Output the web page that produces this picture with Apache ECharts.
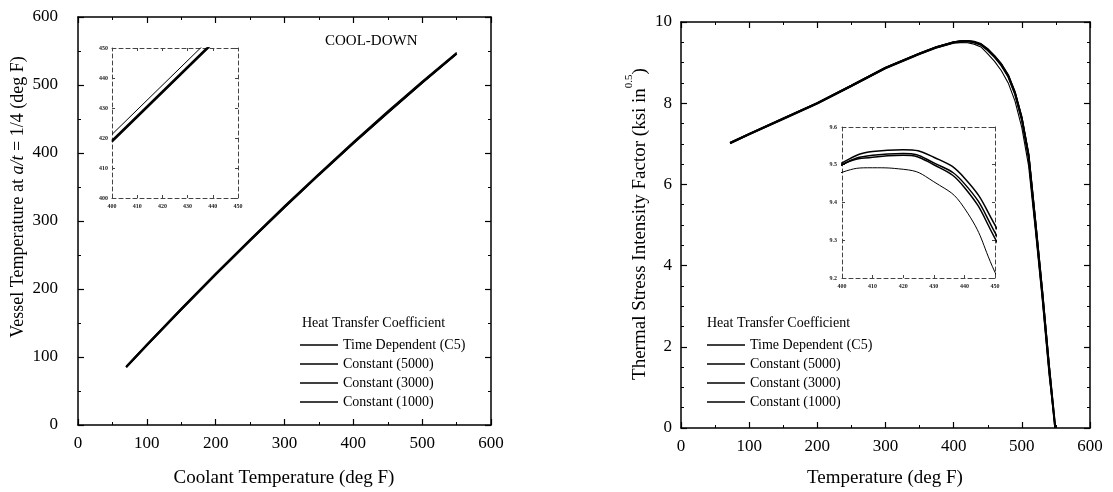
<!DOCTYPE html>
<html><head><meta charset="utf-8">
<script src="https://cdn.jsdelivr.net/npm/echarts@6/dist/echarts.min.js"></script>
<style>html,body{margin:0;padding:0;background:#fff}#c{width:1113px;height:492px}</style>
</head><body><div id="c"></div>
<script>
// ---- data ----
const seriesNames = ['Time Dependent (C5)', 'Constant (5000)', 'Constant (3000)', 'Constant (1000)'];

// Left: vessel temperature at a/t = 1/4 vs coolant temperature (cool-down)
const coolantTemp = [70, 100, 150, 200, 250, 300, 350, 400, 450, 500, 550];
const vesselTD    = [85, 117.2, 169.8, 221.2, 271.3, 320.2, 367.8, 414.2, 459.3, 503.2, 545.8];
const vessel5000  = [85.2, 117.4, 170.0, 221.4, 271.5, 320.4, 368.0, 414.4, 459.5, 503.4, 546.0];
const vessel3000  = [85.4, 117.6, 170.2, 221.6, 271.7, 320.6, 368.2, 414.6, 459.7, 503.6, 546.2];
const vessel1000  = [86.5, 119.0, 171.8, 223.2, 273.4, 322.4, 370.1, 416.6, 461.8, 505.7, 548.0];

// Left inset (zoom 400-450 deg F)
const insetCoolant    = [400, 450];
const insetVesselTD   = [418.7, 459.7];
const insetVessel5000 = [418.9, 459.9];
const insetVessel3000 = [419.2, 460.2];
const insetVessel1000 = [421.2, 462.2];

// Right: thermal stress intensity factor vs temperature
const tempF = [72, 100, 150, 200, 250, 300, 350, 375, 400, 410, 420, 430, 440, 450, 460, 470, 480, 490, 500, 510, 520, 530, 540, 549];
const kTD   = [7.02, 7.24, 7.62, 8.00, 8.43, 8.87, 9.22, 9.38, 9.500, 9.525, 9.530, 9.505, 9.450, 9.320, 9.15, 8.95, 8.68, 8.25, 7.62, 6.70, 5.05, 3.35, 1.50, 0];
const k5000 = [7.03, 7.25, 7.63, 8.01, 8.44, 8.88, 9.23, 9.39, 9.505, 9.535, 9.540, 9.520, 9.465, 9.340, 9.17, 8.97, 8.70, 8.28, 7.66, 6.75, 5.10, 3.40, 1.55, 0];
const k3000 = [7.02, 7.24, 7.62, 8.00, 8.43, 8.87, 9.22, 9.38, 9.500, 9.520, 9.525, 9.500, 9.440, 9.305, 9.14, 8.93, 8.66, 8.23, 7.60, 6.68, 5.02, 3.32, 1.48, 0];
const k1000 = [7.00, 7.22, 7.60, 7.98, 8.41, 8.85, 9.20, 9.36, 9.480, 9.492, 9.488, 9.455, 9.385, 9.215, 9.03, 8.80, 8.50, 8.05, 7.40, 6.45, 4.85, 3.15, 1.30, 0];

// axis ranges / ticks
const leftX = {min: 0, max: 600, interval: 100};
const leftY = {min: 0, max: 600, interval: 100};
const rightX = {min: 0, max: 600, interval: 100};
const rightY = {min: 0, max: 10, interval: 2};
const leftInsetX = {min: 400, max: 450, interval: 10};
const leftInsetY = {min: 400, max: 450, interval: 10};
const rightInsetX = {min: 400, max: 450, interval: 10};
const rightInsetY = {min: 9.2, max: 9.6, interval: 0.1};

const FONT = 'Liberation Serif';
const zip = (xs, ys) => xs.map((x, i) => [x, ys[i]]);

function mainAxis(r, pos, grid, showLabel, margin, minorSplit) {
  return {
    type: 'value', gridIndex: grid, position: pos,
    min: r.min, max: r.max, interval: r.interval,
    axisLine: {show: true, onZero: false, lineStyle: {color: '#000', width: 1.5}},
    axisTick: {show: true, inside: true, length: 6, lineStyle: {color: '#000', width: 1.2}},
    minorTick: {show: true, splitNumber: minorSplit, length: 3, lineStyle: {color: '#000', width: 1}},
    splitLine: {show: false}, minorSplitLine: {show: false},
    axisLabel: {show: showLabel, margin: margin, fontSize: 17, color: '#000', fontFamily: FONT}
  };
}
function insetAxis(r, pos, grid, showLabel, margin) {
  return {
    type: 'value', gridIndex: grid, position: pos,
    min: r.min, max: r.max, interval: r.interval,
    axisLine: {show: true, onZero: false, lineStyle: {color: '#444', width: 1, type: [4, 3]}},
    axisTick: {show: true, inside: true, length: 3, lineStyle: {color: '#444', width: 1}},
    splitLine: {show: false},
    axisLabel: {show: showLabel, margin: margin, fontSize: 6, fontWeight: 'bold', color: '#222', fontFamily: FONT,
      formatter: v => (Math.round(v * 10) / 10).toString()}
  };
}

const widths = [2, 1.4, 2, 1.1];
const leftYs = [vesselTD, vessel5000, vessel3000, vessel1000];
const leftInsetYs = [insetVesselTD, insetVessel5000, insetVessel3000, insetVessel1000];
const rightYs = [kTD, k5000, k3000, k1000];

const series = [];
seriesNames.forEach((n, i) => {
  const base = {name: n, type: 'line', symbol: 'none', color: '#000', itemStyle: {color: '#000'}, z: 3};
  series.push(Object.assign({}, base, {xAxisIndex: 0, yAxisIndex: 0, data: zip(coolantTemp, leftYs[i]),
    lineStyle: {color: '#000', width: widths[i]}}));
  series.push(Object.assign({}, base, {xAxisIndex: 2, yAxisIndex: 2, data: zip(tempF, rightYs[i]),
    lineStyle: {color: '#000', width: widths[i]}}));
  series.push(Object.assign({}, base, {xAxisIndex: 4, yAxisIndex: 4, data: zip(insetCoolant, leftInsetYs[i]),
    clip: true, lineStyle: {color: '#000', width: i === 3 ? 1 : 1.6}}));
  series.push(Object.assign({}, base, {xAxisIndex: 6, yAxisIndex: 6, data: zip(tempF, rightYs[i]),
    smooth: 0.5, clip: true, lineStyle: {color: '#000', width: i === 3 ? 1 : 1.5}}));
});

const legendBase = {
  orient: 'vertical', data: seriesNames, icon: 'rect', itemWidth: 38, itemHeight: 1.3, itemGap: 5, padding: 0,
  selectedMode: false, itemStyle: {color: '#000'},
  textStyle: {fontSize: 14, lineHeight: 14, color: '#000', fontFamily: FONT}
};

const option = {
  backgroundColor: '#fff',
  animation: false,
  grid: [
    {left: 78, right: 622, top: 17, bottom: 67},
    {left: 681, right: 23, top: 22, bottom: 64},
    {left: 112, width: 126, top: 48, height: 150},
    {left: 842, width: 153, top: 127, height: 151}
  ],
  xAxis: [
    mainAxis(leftX, 'bottom', 0, true, 10, 2),
    mainAxis(leftX, 'top', 0, false, 10, 2),
    mainAxis(rightX, 'bottom', 1, true, 10, 2),
    mainAxis(rightX, 'top', 1, false, 10, 2),
    insetAxis(leftInsetX, 'bottom', 2, true, 5),
    insetAxis(leftInsetX, 'top', 2, false, 5),
    insetAxis(rightInsetX, 'bottom', 3, true, 5),
    insetAxis(rightInsetX, 'top', 3, false, 5)
  ],
  yAxis: [
    mainAxis(leftY, 'left', 0, true, 20, 2),
    mainAxis(leftY, 'right', 0, false, 20, 2),
    mainAxis(rightY, 'left', 1, true, 9, 4),
    mainAxis(rightY, 'right', 1, false, 9, 4),
    insetAxis(leftInsetY, 'left', 2, true, 4),
    insetAxis(leftInsetY, 'right', 2, false, 4),
    insetAxis(rightInsetY, 'left', 3, true, 5),
    insetAxis(rightInsetY, 'right', 3, false, 5)
  ],
  legend: [
    Object.assign({}, legendBase, {left: 300, top: 338}),
    Object.assign({}, legendBase, {left: 707, top: 338})
  ],
  title: [
    {text: 'Heat Transfer Coefficient', left: 302, top: 316, padding: 0,
      textStyle: {fontSize: 14, fontWeight: 'normal', color: '#000', fontFamily: FONT}},
    {text: 'Heat Transfer Coefficient', left: 707, top: 316, padding: 0,
      textStyle: {fontSize: 14, fontWeight: 'normal', color: '#000', fontFamily: FONT}},
    {text: 'COOL-DOWN', left: 325, top: 34, padding: 0,
      textStyle: {fontSize: 15, fontWeight: 'normal', color: '#000', fontFamily: FONT}}
  ],
  graphic: [
    {type: 'text', x: 18, y: 197, rotation: Math.PI / 2, silent: true,
      style: {text: '{n|Vessel Temperature at }{i|a/t}{n| = 1/4 (deg F)}', align: 'center', verticalAlign: 'middle',
        fill: '#000', fontSize: 18, fontFamily: FONT,
        rich: {n: {fontSize: 18, fontFamily: FONT, fill: '#000'}, i: {fontSize: 18, fontFamily: FONT, fontStyle: 'italic', fill: '#000'}}}},
    {type: 'text', x: 637, y: 224, rotation: Math.PI / 2, silent: true,
      style: {text: '{n|Thermal Stress Intensity Factor (ksi in}{s|0.5}{n|)}', align: 'center', verticalAlign: 'middle',
        fill: '#000', fontSize: 19, fontFamily: FONT,
        rich: {n: {fontSize: 19, fontFamily: FONT, fill: '#000', lineHeight: 26, verticalAlign: 'bottom'},
               s: {fontSize: 11, fontFamily: FONT, fill: '#000', lineHeight: 26, verticalAlign: 'top'}}}},
    {type: 'text', x: 284, y: 478, silent: true,
      style: {text: 'Coolant Temperature (deg F)', align: 'center', verticalAlign: 'middle', fill: '#000', fontSize: 19, fontFamily: FONT}},
    {type: 'text', x: 885, y: 478, silent: true,
      style: {text: 'Temperature (deg F)', align: 'center', verticalAlign: 'middle', fill: '#000', fontSize: 19, fontFamily: FONT}}
  ],
  series: series
};

const chart = echarts.init(document.getElementById('c'), null, {renderer: 'canvas'});
chart.setOption(option);
</script>
</body></html>
